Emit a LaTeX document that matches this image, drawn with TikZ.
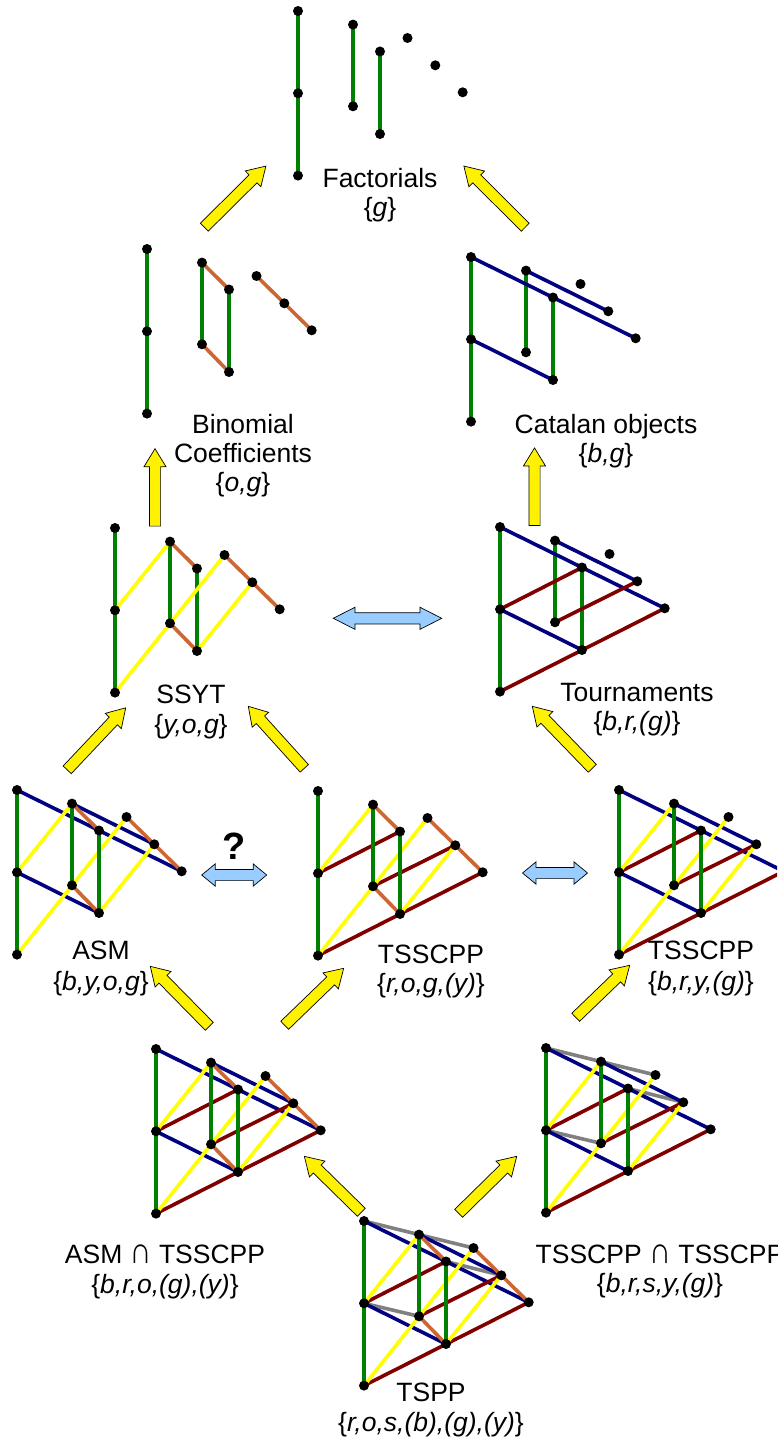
\documentclass[tikz,border=0pt]{standalone}
\usepackage{fontspec}
\setmainfont{Liberation Sans}
\usetikzlibrary{shapes.arrows}
\definecolor{lgreen}{RGB}{0,128,0}
\definecolor{lblue}{RGB}{0,0,128}
\definecolor{lred}{RGB}{128,0,0}
\definecolor{lorange}{RGB}{204,102,51}
\definecolor{lyellow}{RGB}{255,255,0}
\definecolor{lgrey}{RGB}{128,128,128}
\definecolor{skyarrow}{RGB}{153,204,255}
\tikzset{
  dot/.style={circle,fill=black,inner sep=0pt,minimum size=10pt},
  edge/.style={line width=3.6pt},
  yarrow/.style={single arrow,draw=black,fill=yellow,line width=0.7pt,inner sep=0pt,outer sep=0pt,
    text height=10.5pt,text depth=0pt,text width=0pt,single arrow head extend=5.5pt,single arrow tip angle=63},
  barrow/.style={double arrow,draw=black,fill=skyarrow,line width=0.7pt,inner sep=0pt,outer sep=0pt,
    text height=10.5pt,text depth=0pt,text width=0pt,double arrow head extend=5.5pt},
  lab/.style={font=\fontsize{26.5}{30}\selectfont,inner sep=0pt,anchor=base,align=center},
}
\newcommand{\latpts}[3]{%
  \coordinate (#1A) at (#2,#3);
  \coordinate (#1B) at (#2,#3+82.3);
  \coordinate (#1C) at (#2,#3+164.6);
  \coordinate (#1D) at (#2+55,#3+13.6);
  \coordinate (#1E) at (#2+55,#3+95.3);
  \coordinate (#1F) at (#2+82,#3+40.5);
  \coordinate (#1G) at (#2+82,#3+123);
  \coordinate (#1H) at (#2+109.5,#3+27);
  \coordinate (#1I) at (#2+137.3,#3+54.3);
  \coordinate (#1J) at (#2+164.7,#3+81.3);
}
\newcommand{\latdots}[1]{%
  \foreach \q in {A,B,C,D,E,F,G,H,I,J}{\node[dot] (#1\q d) at (#1\q) {};}
}
\newcommand{\edgr}[1]{\draw[edge,lgreen] (#1A)--(#1B) (#1B)--(#1C) (#1D)--(#1E) (#1F)--(#1G);}
\newcommand{\edbl}[1]{\draw[edge,lblue] (#1A)--(#1J) (#1D)--(#1I) (#1B)--(#1G);}
\newcommand{\edrd}[1]{\draw[edge,lred] (#1C)--(#1J) (#1B)--(#1F) (#1E)--(#1I);}
\newcommand{\edyl}[1]{\draw[edge,lyellow] (#1C)--(#1H) (#1B)--(#1D) (#1G)--(#1I);}
\newcommand{\edor}[1]{\draw[edge,lorange] (#1D)--(#1F) (#1H)--(#1I) (#1I)--(#1J) (#1E)--(#1G);}
\newcommand{\edgy}[1]{\draw[edge,lgrey] (#1A)--(#1D) (#1D)--(#1H) (#1F)--(#1I) (#1B)--(#1E);}
\newcommand{\blockarrow}[5]{%
  \pgfmathsetmacro\baAng{atan2(-(#5-#3),#4-#2)}%
  \pgfmathsetmacro\baLen{veclen(#4-#2,#5-#3)}%
  \node[yarrow,minimum height=\baLen pt,rotate=\baAng] (#1) at ({(#2+#4)/2-5*(#4-#2)/\baLen},{(#3+#5)/2-5*(#5-#3)/\baLen}) {};
}
\newcommand{\setl}[1]{\{\textit{#1}\}}
\newcommand{\capsign}{\scalebox{1.15}[1.4]{∩}}
\begin{document}
\begin{tikzpicture}[x=1pt,y=-1pt]
\path[use as bounding box,clip] (0,0) rectangle (777,1442);
% lattices
\latpts{fa}{298}{11}   \edgr{fa}
\latdots{fa}
\latpts{bi}{147}{249}  \edgr{bi}\edor{bi}
\latdots{bi}
\latpts{ca}{471}{257}  \edgr{ca}\edbl{ca}
\latdots{ca}
\latpts{ss}{115}{528}  \edgr{ss}\edyl{ss}\edor{ss}
\latdots{ss}
\latpts{to}{500}{527}  \edgr{to}\edbl{to}\edrd{to}
\latdots{to}
\latpts{as}{17}{790}   \edbl{as}\edyl{as}\edor{as}\edgr{as}
\latdots{as}
\latpts{tm}{318}{791}  \edrd{tm}\edyl{tm}\edor{tm}\edgr{tm}
\latdots{tm}
\latpts{tr}{619}{790}  \edbl{tr}\edrd{tr}\edyl{tr}\edgr{tr}
\latdots{tr}
\latpts{at}{156}{1049} \edbl{at}\edrd{at}\edyl{at}\edor{at}\edgr{at}
\latdots{at}
\latpts{tt}{546}{1048} \edgy{tt}\edbl{tt}\edrd{tt}\edyl{tt}\edgr{tt}
\latdots{tt}
\latpts{tp}{364}{1221} \edgy{tp}\edbl{tp}\edrd{tp}\edyl{tp}\edor{tp}\edgr{tp}
\latdots{tp}
% arrows
\blockarrow{a1}{204.5}{227}{266.3}{165.7}
\blockarrow{a2}{525}{227}{463.5}{165.7}
\blockarrow{a3}{155}{525.7}{155}{448.3}
\blockarrow{a4}{534.5}{525}{534.5}{447.5}
\blockarrow{a5}{67.5}{769.5}{126}{707.5}
\blockarrow{a6}{304}{768}{248}{706}
\blockarrow{a7}{592}{768}{532}{706}
\blockarrow{a8}{209}{1026}{150}{966}
\blockarrow{a9}{285}{1025}{344}{968}
\blockarrow{a10}{576}{1017}{630}{965}
\blockarrow{a11}{361}{1212}{304}{1156}
\blockarrow{a12}{459}{1213}{517}{1156}
\node[barrow,minimum height=108.4pt,double arrow tip angle=54] (d1) at (387.5,618.3) {};
\node[barrow,minimum height=65pt,double arrow tip angle=79] (d2) at (234.2,875) {};
\node[barrow,minimum height=65pt,double arrow tip angle=79] (d3) at (555,873) {};
% labels
\node[lab] (l1) at (380,187.5) {Factorials};
\node[lab] (l1s) at (380,216.4) {\setl{g}};
\node[lab] (l2) at (243,433.5) {Binomial};
\node[lab] (l2b) at (243,462.5) {Coefficients};
\node[lab] (l2s) at (243,491.4) {\setl{o,g}};
\node[lab] (l3) at (606,433.5) {Catalan objects};
\node[lab] (l3s) at (606,462.4) {\setl{b,g}};
\node[lab] (l4) at (191,703.5) {SSYT};
\node[lab] (l4s) at (191,733.4) {\setl{y,o,g}};
\node[lab] (l5) at (637,701.5) {Tournaments};
\node[lab] (l5s) at (637,730.4) {\setl{b,r,(g)}};
\node[lab] (l6) at (101,959.5) {ASM};
\node[lab] (l6s) at (101,990.4) {\setl{b,y,o,g}};
\node[lab] (l7) at (431,963.5) {TSSCPP};
\node[lab] (l7s) at (431,992.4) {\setl{r,o,g,(y)}};
\node[lab] (l8) at (701,959.5) {TSSCPP};
\node[lab] (l8s) at (701,990.4) {\setl{b,r,y,(g)}};
\node[lab] (l9) at (165,1263.5) {ASM \capsign{} TSSCPP};
\node[lab] (l9s) at (165,1293.4) {\setl{b,r,o,(g),(y)}};
\node[lab] (l10) at (660,1263.5) {TSSCPP \capsign{} TSSCPP};
\node[lab] (l10s) at (660,1292.4) {\setl{b,r,s,y,(g)}};
\node[lab] (l11) at (431,1401.5) {TSPP};
\node[lab] (l11s) at (431,1431.4) {\setl{r,o,s,(b),(g),(y)}};
\node[lab,anchor=center,font=\fontsize{38}{42}\selectfont\bfseries] (q) at (234,846) {?};
\end{tikzpicture}
\end{document}
